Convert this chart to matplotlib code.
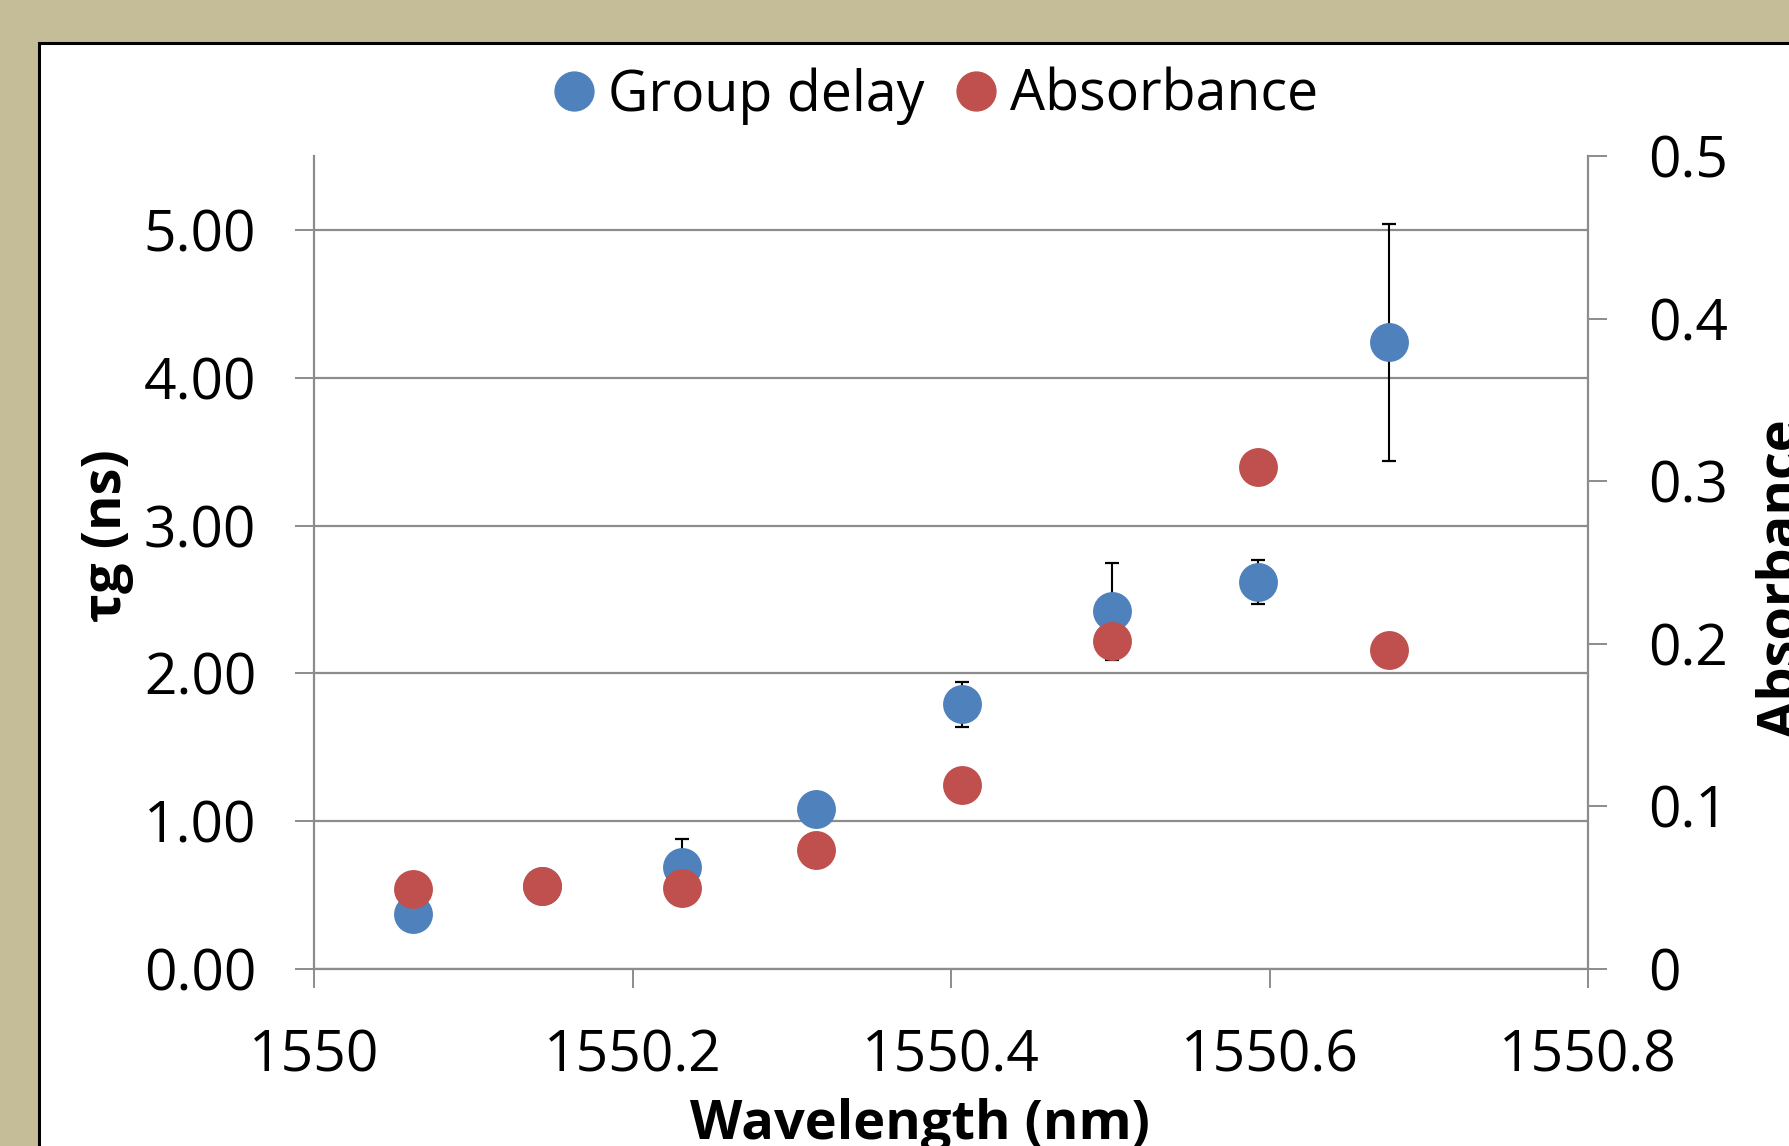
import numpy as np
import matplotlib
matplotlib.use("Agg")
import matplotlib.pyplot as plt
import matplotlib.patches as mpl_patches
from matplotlib.lines import Line2D

# data
wavelength = [1550.062, 1550.143, 1550.231, 1550.315, 1550.407, 1550.501, 1550.593, 1550.675]
group_delay = [0.37, 0.56, 0.69, 1.08, 1.79, 2.42, 2.62, 4.24]
group_delay_err = [0.02, 0.02, 0.19, 0.02, 0.15, 0.33, 0.15, 0.80]
absorbance = [0.049, 0.051, 0.050, 0.073, 0.113, 0.202, 0.309, 0.196]

x_ticks = [1550, 1550.2, 1550.4, 1550.6, 1550.8]
x_ticklabels = ["1550", "1550.2", "1550.4", "1550.6", "1550.8"]
y_ticks = [0, 1, 2, 3, 4, 5]
y2_ticks = [0, 0.1, 0.2, 0.3, 0.4, 0.5]
y2_ticklabels = ["0", "0.1", "0.2", "0.3", "0.4", "0.5"]

sBlue = "#4F81BD"
sRed = "#C0504D"
sGrey = "#8C8C8C"
sFont = "Open Sans"
iFs_tick = 41
iFs_legend = 40
iFs_label = 39

fig = plt.figure(figsize=(17.89, 11.46), dpi=100)
fig.patch.set_facecolor("#C5BD97")
# white chart panel running off the right and bottom edges
panel = mpl_patches.Rectangle((39 / 1789, -0.1), 1.2, 1 - 43 / 1146 + 0.1,
                              transform=fig.transFigure, facecolor="white",
                              edgecolor="black", linewidth=2.2, zorder=-10)
fig.patches.append(panel)

ax = fig.add_axes([314 / 1789, 1 - 969 / 1146, (1588 - 314) / 1789, (969 - 156) / 1146])
ax.set_facecolor("none")
ax2 = ax.twinx()

ax.errorbar(wavelength, group_delay, yerr=group_delay_err, fmt="none",
            ecolor="black", elinewidth=1.5, capsize=5, capthick=1.6, zorder=2)
ax.plot(wavelength, group_delay, "o", color=sBlue, markersize=28, markeredgewidth=0, zorder=3)
ax2.plot(wavelength, absorbance, "o", color=sRed, markersize=28, markeredgewidth=0, zorder=3)

ax.set_xlim(1550, 1550.8)
ax.set_ylim(0, 5.5)
ax2.set_ylim(0, 0.5)

ax.set_xticks(x_ticks)
ax.set_xticklabels(x_ticklabels)
ax.set_yticks(y_ticks)
ax.set_yticklabels(["%.2f" % v for v in y_ticks])
ax2.set_yticks(y2_ticks)
ax2.set_yticklabels(y2_ticklabels)

ax.grid(axis="y", color=sGrey, linewidth=1.6)
ax.set_axisbelow(True)

for a in (ax, ax2):
    a.spines["top"].set_visible(False)
    for s in ("left", "right", "bottom"):
        a.spines[s].set_color(sGrey)
        a.spines[s].set_linewidth(1.6)
    a.tick_params(direction="out", length=14, width=1.4, color=sGrey, pad=29,
                  labelsize=iFs_tick)
    for lab in a.get_xticklabels() + a.get_yticklabels():
        lab.set_fontfamily(sFont)
ax.tick_params(axis="y", pad=27.5)
ax.spines["right"].set_visible(False)
ax2.spines["left"].set_visible(False)
ax2.spines["bottom"].set_visible(False)

ax.set_xlabel("Wavelength (nm)", fontsize=iFs_label, fontweight="bold", family=sFont, labelpad=8.5)
ax.xaxis.label.set_x(0.476)
ax.set_ylabel("τg (ns)", fontsize=iFs_label, fontweight="bold", family=sFont, labelpad=7)
ax.yaxis.label.set_y(0.533)
ax2.set_ylabel("Absorbance", fontsize=iFs_label, fontweight="bold", family=sFont,
               rotation=90, labelpad=20)
ax2.yaxis.label.set_y(0.48)

handles = [Line2D([], [], marker="o", linestyle="none", color=sBlue, markersize=28),
           Line2D([], [], marker="o", linestyle="none", color=sRed, markersize=28)]
fig.legend(handles, ["Group delay", "Absorbance"], loc="center",
           bbox_to_anchor=(932 / 1789, 1 - 96 / 1146), ncol=2, frameon=False,
           prop={"family": sFont, "size": iFs_legend}, handletextpad=0.12,
           columnspacing=0.42, handlelength=1.0)

plt.savefig("out.png", dpi=100)
plt.close("all")
